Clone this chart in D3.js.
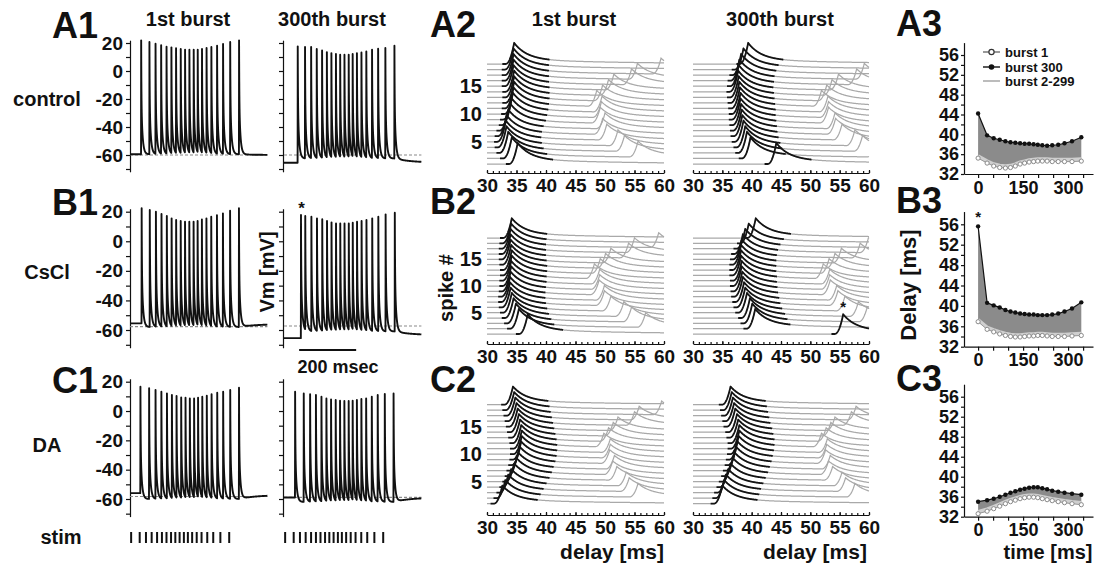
<!DOCTYPE html>
<html>
<head>
<meta charset="utf-8">
<script src="https://cdn.jsdelivr.net/npm/d3@7"></script>
<style>
  body { margin: 0; background: #fff; }
  svg { display: block; font-family: "Liberation Sans", Arial, Helvetica, sans-serif; font-weight: bold; }
  .axis path, .axis line { stroke: #111; stroke-width: 1.2; }
  .axis text { fill: #111; font-family: "Liberation Sans", Arial, sans-serif; font-weight: bold; }
</style>
</head>
<body>
<svg id="fig" width="1098" height="565"></svg>
<script>
// ---- stimulus train (ms from burst onset) ----
const stimTimes = [0, 30, 52, 72, 91, 108, 124, 140, 155, 170, 185, 199, 214, 230, 247, 267, 288, 313, 344];
const spikeTicks = [5, 10, 15];

// ---- spike delay after each stimulus (ms) ----
const delayControl1   = [35.2, 34.2, 33.6, 33.3, 33.2, 33.3, 33.6, 34.0, 34.2, 34.4, 34.5, 34.6, 34.6, 34.6, 34.5, 34.5, 34.5, 34.5, 34.6];
const delayControl300 = [44.2, 39.8, 39.2, 38.9, 38.6, 38.4, 38.3, 38.2, 38.1, 38.1, 38.0, 37.9, 37.8, 37.7, 37.8, 37.9, 38.2, 38.6, 39.4];
const delayCsCl1      = [36.9, 35.4, 34.9, 34.5, 34.2, 34.0, 33.9, 33.9, 34.0, 34.1, 34.1, 34.2, 34.2, 34.1, 34.0, 34.0, 34.0, 34.1, 34.2];
const delayCsCl300    = [55.6, 40.6, 40.1, 39.7, 39.2, 38.9, 38.7, 38.5, 38.4, 38.3, 38.3, 38.2, 38.2, 38.2, 38.3, 38.5, 38.9, 39.5, 40.7];
const delayDA1        = [32.6, 33.1, 33.6, 34.1, 34.6, 35.0, 35.3, 35.6, 35.8, 35.9, 35.9, 35.8, 35.6, 35.4, 35.2, 35.0, 34.8, 34.6, 34.4];
const delayDA300      = [35.0, 35.3, 35.6, 36.0, 36.4, 36.8, 37.1, 37.4, 37.6, 37.8, 37.9, 37.9, 37.7, 37.5, 37.2, 37.0, 36.8, 36.6, 36.4];

// ---- spike peak voltage (mV) ----
const peakControl1   = [21.9, 20.7, 19.5, 18.4, 17.4, 16.9, 16.2, 15.7, 15.2, 15.2, 15.2, 15.2, 15.7, 16.4, 17.1, 18.1, 19.3, 20.7, 21.9];
const peakControl300 = [17.6, 17.1, 17.1, 15.7, 14.7, 13.5, 12.8, 12.1, 11.6, 11.6, 11.6, 12.1, 12.8, 13.3, 14.0, 15.2, 15.9, 16.4, 18.1];
const peakCsCl1      = [22.3, 21.1, 20.0, 18.4, 17.1, 15.5, 14.4, 13.7, 13.2, 13.2, 13.2, 13.7, 14.8, 15.5, 16.6, 17.7, 18.9, 20.7, 22.3];
const peakCsCl300    = [17.8, 17.1, 16.6, 15.5, 14.9, 13.7, 12.8, 12.1, 12.1, 12.1, 12.1, 12.5, 13.2, 13.7, 14.4, 15.5, 16.6, 18.2, 19.3];
const peakDA1        = [16.6, 15.5, 14.3, 13.2, 12.0, 10.9, 10.2, 9.3, 9.1, 8.6, 8.6, 9.1, 9.8, 10.5, 11.4, 12.5, 13.2, 14.3, 15.9];
const peakDA300      = [13.2, 12.0, 11.4, 10.9, 9.8, 8.6, 7.9, 7.5, 7.0, 6.8, 6.8, 7.0, 7.5, 8.2, 8.6, 9.8, 10.9, 11.6, 12.0];

// ---- membrane levels (mV): before burst, between spikes, after burst, reference ----
const levelsControl1   = { pre: -59.5, trough: -59.5, post: -60.0, ref: -60.0 };
const levelsControl300 = { pre: -65.5, trough: -62.5, post: -65.5, ref: -60.0 };
const levelsCsCl1      = { pre: -55.5, trough: -58.0, post: -56.0, ref: -57.7 };
const levelsCsCl300    = { pre: -65.5, trough: -61.0, post: -63.5, ref: -57.3 };
const levelsDA1        = { pre: -56.0, trough: -60.0, post: -57.3, ref: -58.3 };
const levelsDA300      = { pre: -59.0, trough: -62.0, post: -59.0, ref: -58.9 };

// ---- text ----
const rowNames = ["control", "CsCl", "DA"];
const columnTitles = ["1st burst", "300th burst"];
const legendLabels = ["burst 1", "burst 300", "burst 2-299"];

// ---- per-row data ----
const rows = [
  { id: "A", name: rowNames[0], delay: [delayControl1, delayControl300], peak: [peakControl1, peakControl300], level: [levelsControl1, levelsControl300] },
  { id: "B", name: rowNames[1], delay: [delayCsCl1, delayCsCl300],       peak: [peakCsCl1, peakCsCl300],       level: [levelsCsCl1, levelsCsCl300] },
  { id: "C", name: rowNames[2], delay: [delayDA1, delayDA300],           peak: [peakDA1, peakDA300],           level: [levelsDA1, levelsDA300] }
];

// ---- layout ----
const layout = [
  { vm: [43, 155],    wf: [164, 64],      wfAxis: 173, wfAmp: 3.8, dl: [174, 55],      label: 38,  nameY: 106 },
  { vm: [211.7, 330], wf: [334, 238],     wfAxis: 344, wfAmp: 3.7, dl: [346.7, 224.3], label: 215, nameY: 279 },
  { vm: [381.7, 499], wf: [503.7, 404.7], wfAxis: 515, wfAmp: 3.3, dl: [516.7, 396.7], label: 393, nameY: 452 }
];
const vmX = [
  d3.scaleLinear().domain([-4, 478]).range([130, 267.4]),
  d3.scaleLinear().domain([-4, 478]).range([284, 421.4])
];
const vmAxisX = [130, 283];
const wfRange = [[487, 664], [693, 869]];
const dlX = d3.scaleLinear().domain([-47, 383]).range([964, 1093]);

const svg = d3.select("#fig");
const INK = "#111";

function addText(x, y, str, size, anchor = "start", rotate = 0) {
  return svg.append("text")
    .attr("transform", `translate(${x},${y}) rotate(${rotate})`)
    .attr("text-anchor", anchor)
    .attr("font-size", size)
    .attr("fill", INK)
    .text(str);
}

// ---- voltage trace model built from spike times / peaks ----
function vmDecay(dt) { return 0.5 * Math.exp(-dt / 0.8) + 0.5 * Math.exp(-dt / 4.5); }
function vmSamples(times, peaks, lv, t0, t1) {
  const ts = d3.range(t0, t1, 0.1);
  times.forEach(t => ts.push(t, t - 0.3, t + 0.15, t + 0.3));
  ts.sort((a, b) => a - b);
  const last = times.length - 1;
  return ts.map(t => {
    let k = -1;
    while (k + 1 <= last && times[k + 1] <= t) k++;
    let v;
    if (k < 0) v = lv.pre;
    else {
      const base = k < last ? lv.trough
        : lv.post + (lv.trough - lv.post) * Math.exp(-(t - times[last]) / 60);
      v = base + (peaks[k] - base) * vmDecay(t - times[k]);
    }
    const j = k + 1;
    if (j <= last && t > times[j] - 0.6) {
      const r = Math.pow((t - (times[j] - 0.6)) / 0.6, 2);
      v = v + (peaks[j] - v) * r;
    }
    return [t, v];
  });
}

// ---- waterfall waveform (in spike-row units) ----
function wfShape(dt) {
  if (dt < -1.5) return 0;
  if (dt < 0) return Math.pow((dt + 1.5) / 1.5, 2.2);
  return 0.78 * Math.exp(-dt / 2.2) + 0.22 * Math.exp(-dt / 18);
}

rows.forEach((row, ri) => {
  const L = layout[ri];

  // panel labels and row name
  addText(52, L.label, row.id + "1", 36);
  addText(430, L.label - 1, row.id + "2", 36);
  addText(896, L.label - 2, row.id + "3", 36);
  addText(47, L.nameY, row.name, 20, "middle");

  // ===== column 1: membrane potential =====
  const ys = d3.scaleLinear().domain([20, -60]).range(L.vm);
  [0, 1].forEach(c => {
    const xs = vmX[c];
    const axScale = ys.copy().domain([22, -72]).range([ys(22), ys(-72)]);
    const ax = svg.append("g").attr("class", "axis")
      .attr("transform", `translate(${vmAxisX[c]},0)`)
      .call(d3.axisLeft(axScale)
        .tickValues(d3.range(20, -71, -10))
        .tickSize(4).tickSizeOuter(0).tickPadding(3)
        .tickFormat(d => (c === 0 && d % 20 === 0) ? String(d) : ""));
    ax.selectAll("text").attr("font-size", 19);

    const lv = row.level[c];
    svg.append("line")
      .attr("x1", xs(-4)).attr("x2", xs(478))
      .attr("y1", ys(lv.ref)).attr("y2", ys(lv.ref))
      .attr("stroke", "#8a8a8a").attr("stroke-width", 1.1)
      .attr("stroke-dasharray", "3,2");

    const times = stimTimes.map((s, i) => s + row.delay[c][i]);
    const pts = vmSamples(times, row.peak[c], lv, -4, 478);
    svg.append("path")
      .attr("d", d3.line().x(d => xs(d[0])).y(d => ys(d[1]))(pts))
      .attr("fill", "none").attr("stroke", INK).attr("stroke-width", 1.9)
      .attr("stroke-linejoin", "round");

    if (ri === 1 && c === 1) {
      addText(xs(times[0]) + 0.5, ys(row.peak[c][0]) - 1, "*", 17, "middle");
    }
    if (ri === 2) {
      // stimulus markers
      svg.append("g").selectAll("line").data(stimTimes).join("line")
        .attr("x1", d => xs(d)).attr("x2", d => xs(d))
        .attr("y1", 532).attr("y2", 543)
        .attr("stroke", INK).attr("stroke-width", 2);
    }
  });

  // ===== column 2: spike waterfall =====
  const yw = d3.scaleLinear().domain([1, 19]).range(L.wf);
  [0, 1].forEach(c => {
    const xw = d3.scaleLinear().domain([30, 60]).range(wfRange[c]);
    const d1 = row.delay[c];
    const grid = d3.range(30, 60.001, 0.1);
    const traces = d1.map((dl, i) => {
      const n = i + 1;
      const d2 = i < d1.length - 1 ? (stimTimes[i + 1] - stimTimes[i]) + d1[i + 1] : null;
      const f = t => n + L.wfAmp * wfShape(t - dl) + (d2 !== null ? 0.75 * L.wfAmp * wfShape(t - d2) : 0);
      const extra = [dl, d2].filter(v => v !== null && v > 30 && v < 60);
      const tsAll = grid.concat(extra).sort((a, b) => a - b);
      const full = tsAll.map(t => [t, f(t)]);
      const b0 = Math.max(30, dl - 2), b1 = Math.min(60, dl + 6);
      const bts = d3.range(b0, b1, 0.05).concat([b1]);
      if (dl > b0 && dl < b1) bts.push(dl);
      bts.sort((a, b) => a - b);
      const black = bts.map(t => [t, f(t)]);
      return { n, full, black, dl };
    });
    const line = d3.line().x(d => xw(d[0])).y(d => yw(d[1]));
    const g = svg.append("g");
    g.selectAll(".grey").data(traces.slice().reverse()).join("path")
      .attr("d", d => line(d.full))
      .attr("fill", "none").attr("stroke", "#a9a9a9").attr("stroke-width", 1.25);
    g.selectAll(".blk").data(traces.slice().reverse()).join("path")
      .attr("d", d => line(d.black))
      .attr("fill", "none").attr("stroke", "#141414").attr("stroke-width", 1.8)
      .attr("stroke-linejoin", "round");

    if (ri === 1 && c === 1) {
      addText(xw(d1[0]), yw(1 + L.wfAmp) - 2, "*", 15, "middle");
    }

    // x axis: ruler-style ticks
    const axG = svg.append("g").attr("class", "axis").attr("transform", `translate(0,${L.wfAxis})`);
    axG.call(d3.axisBottom(xw).tickValues(d3.range(30, 61, 5)).tickSize(-3).tickSizeOuter(0).tickPadding(6).tickFormat(d3.format("d")));
    axG.selectAll("text").attr("font-size", 19);
    svg.append("g").attr("class", "axis").attr("transform", `translate(0,${L.wfAxis})`)
      .call(d3.axisBottom(xw).tickValues(d3.range(30, 61, 1)).tickSize(-2).tickFormat(""))
      .call(s => s.select(".domain").remove());

    if (c === 0) {
      const yl = svg.append("g").attr("class", "axis").attr("transform", `translate(${wfRange[0][0] - 3},0)`)
        .call(d3.axisLeft(yw).tickValues(spikeTicks).tickSize(0).tickPadding(2));
      yl.select(".domain").remove();
      yl.selectAll("text").attr("font-size", 20);
    }
  });

  // ===== column 3: delay vs time =====
  const yd = d3.scaleLinear().domain([32, 56]).range(L.dl);
  const yAxScale = yd.copy().domain([32, 58.5]).range([yd(32), yd(58.5)]);
  const yax = svg.append("g").attr("class", "axis").attr("transform", `translate(${dlX(-47)},0)`)
    .call(d3.axisLeft(yAxScale).tickValues(d3.range(32, 57, 2)).tickSize(3).tickSizeOuter(0).tickPadding(2)
      .tickFormat(d => d % 4 === 0 ? String(d) : ""));
  yax.selectAll("text").attr("font-size", 18);
  const xax = svg.append("g").attr("class", "axis").attr("transform", `translate(0,${yd(32)})`)
    .call(d3.axisBottom(dlX).tickValues(d3.range(0, 351, 50)).tickSize(4).tickSizeOuter(0).tickPadding(3)
      .tickFormat(d => [0, 150, 300].includes(d) ? String(d) : ""));
  xax.selectAll("text").attr("font-size", 18);

  const b1 = row.delay[0], b300 = row.delay[1];
  svg.append("path")
    .attr("d", d3.area().x((d, i) => dlX(stimTimes[i])).y0((d, i) => yd(b1[i])).y1((d, i) => yd(b300[i]))(b1))
    .attr("fill", "#8b8b8b");
  const ln = d3.line().x((d, i) => dlX(stimTimes[i])).y(d => yd(d));
  svg.append("path").attr("d", ln(b1)).attr("fill", "none").attr("stroke", "#cfcfcf").attr("stroke-width", 3.5)
    .attr("transform", "translate(0,-2)");
  svg.append("path").attr("d", ln(b1)).attr("fill", "none").attr("stroke", "#9a9a9a").attr("stroke-width", 1);
  svg.append("path").attr("d", ln(b300)).attr("fill", "none").attr("stroke", INK).attr("stroke-width", 1.2);
  svg.append("g").selectAll("circle").data(b1).join("circle")
    .attr("cx", (d, i) => dlX(stimTimes[i])).attr("cy", d => yd(d)).attr("r", 2.1)
    .attr("fill", "#fff").attr("stroke", "#8a8a8a").attr("stroke-width", 1);
  svg.append("g").selectAll("circle").data(b300).join("circle")
    .attr("cx", (d, i) => dlX(stimTimes[i])).attr("cy", d => yd(d)).attr("r", 2.2)
    .attr("fill", INK);
  if (ri === 1) addText(dlX(stimTimes[0]), yd(b300[0]) - 4, "*", 15, "middle");
});

// ---- titles ----
addText(188, 26, columnTitles[0], 20, "middle");
addText(332, 26, columnTitles[1], 20, "middle");
addText(574, 26, columnTitles[0], 20, "middle");
addText(780, 26, columnTitles[1], 20, "middle");

// ---- axis captions ----
addText(274, 272, "Vm [mV]", 20, "middle", -90);
addText(453, 288, "spike #", 20, "middle", -90);
addText(916, 285, "Delay [ms]", 22, "middle", -90);
addText(612, 559, "delay [ms]", 21, "middle");
addText(815, 559, "delay [ms]", 21, "middle");
addText(1048, 559, "time [ms]", 20, "middle");
addText(61, 544, "stim", 20, "middle");

// ---- time scale bar ----
svg.append("line").attr("x1", vmX[1](0) + 14).attr("x2", vmX[1](200) + 14)
  .attr("y1", 350).attr("y2", 350).attr("stroke", INK).attr("stroke-width", 2);
addText(338, 373, "200 msec", 18, "middle");

// ---- legend (A3) ----
const legend = svg.append("g");
const legY = [52, 67, 81];
legend.append("line").attr("x1", 983).attr("x2", 1000).attr("y1", legY[0]).attr("y2", legY[0]).attr("stroke", "#555").attr("stroke-width", 1.2);
legend.append("circle").attr("cx", 991.5).attr("cy", legY[0]).attr("r", 2.6).attr("fill", "#fff").attr("stroke", "#333").attr("stroke-width", 1.2);
legend.append("line").attr("x1", 983).attr("x2", 1000).attr("y1", legY[1]).attr("y2", legY[1]).attr("stroke", INK).attr("stroke-width", 1.4);
legend.append("circle").attr("cx", 991.5).attr("cy", legY[1]).attr("r", 2.8).attr("fill", INK);
legend.append("line").attr("x1", 983).attr("x2", 1000).attr("y1", legY[2]).attr("y2", legY[2]).attr("stroke", "#a0a0a0").attr("stroke-width", 1.4);
legendLabels.forEach((s, i) => addText(1005, legY[i] + 4.5, s, 13));
</script>
</body>
</html>
